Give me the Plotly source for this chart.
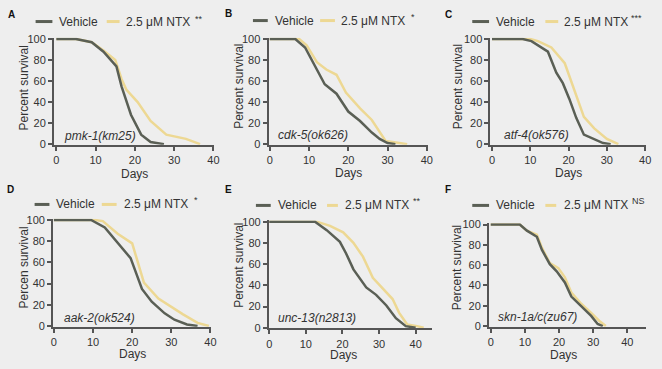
import plotly.graph_objects as go

W, H = 662, 369

# ---------------- data (days, percent survival) ----------------
a_veh_days = [0, 5, 9, 12, 15.3, 16.6, 19, 21.6, 24, 27.4]
a_veh_surv = [100, 100, 97, 88, 74, 55, 28, 9, 2, 0]
a_ntx_days = [0, 5, 9, 12, 15, 16.6, 17.8, 20.7, 24, 28, 33, 36.6]
a_ntx_surv = [100, 100, 97, 89, 80, 62, 52, 40, 22, 9, 5, 0]

b_veh_days = [0, 6.5, 9, 12, 14, 17, 20, 23, 26, 28, 30, 32]
b_veh_surv = [100, 100, 92, 71, 57, 48, 31, 22, 11, 5, 1, 0]
b_ntx_days = [0, 7.5, 9.4, 12, 14.4, 17, 19.4, 23, 26, 28, 29.5, 33, 35]
b_ntx_surv = [100, 100, 94, 78, 71, 66, 49, 34, 23, 11, 3, 1, 0]

c_veh_days = [0, 8, 10.3, 14.6, 16.8, 18.5, 20.2, 22, 24, 26.7, 29, 31]
c_veh_surv = [100, 100, 98, 88, 68, 58, 43, 25, 9, 5, 1, 0]
c_ntx_days = [0, 10, 12, 15.5, 19, 21.5, 24, 26.7, 30, 33]
c_ntx_surv = [100, 100, 98, 92, 77, 52, 26, 15, 5, 0]

d_veh_days = [0, 9.5, 13, 16.3, 19.6, 22.5, 25, 28.3, 30.8, 34, 36.7]
d_veh_surv = [100, 100, 93, 78, 64, 35, 23, 12, 6, 1.5, 0]
d_ntx_days = [0, 10.5, 12.5, 16.3, 20, 23, 26.7, 30, 33, 36.7, 39.6]
d_ntx_surv = [100, 100, 99, 87, 78, 41, 26, 18, 11, 3, 0]

e_veh_days = [0, 12.5, 15.7, 19.3, 21, 23, 26.5, 29.2, 32, 34.6, 37.3, 40]
e_veh_surv = [100, 100, 92, 81, 70, 55, 38, 31, 21, 9, 1.5, 0]
e_ntx_days = [0, 13, 16.6, 20.2, 23, 25.6, 28.3, 31, 33.7, 35.5, 37.7, 40.4, 42.2]
e_ntx_surv = [100, 100, 96, 90, 80, 67, 47, 37, 27, 14, 3, 1.5, 0]

f_veh_days = [0, 8.5, 10.6, 13.5, 15, 17.3, 19.3, 21.7, 23.6, 26.5, 29.4, 31.3, 32.8]
f_veh_surv = [100, 100, 94, 88, 75, 61, 54, 43, 29, 19, 10, 2, 0]
f_ntx_days = [0, 8.5, 10.6, 13.5, 15, 17.3, 19.8, 21.7, 23.6, 26.5, 29.4, 31.8, 33.7]
f_ntx_surv = [100, 100, 94, 90, 77, 62, 57, 48, 33, 22, 13, 5, 0]

panel_letters = ["A", "B", "C", "D", "E", "F"]
genotypes = ["pmk-1(km25)", "cdk-5(ok626)", "atf-4(ok576)",
             "aak-2(ok524)", "unc-13(n2813)", "skn-1a/c(zu67)"]
significance = ["**", "*", "***", "*", "**", "NS"]
ylabels = ["Percent survival", "Percent survival", "Percent survival",
           "Percen survival", "Percent survival", "Percent survival"]
series_names = ["Vehicle", "2.5 μM NTX"]
x_ticks = [0, 10, 20, 30, 40]
y_ticks = [0, 20, 40, 60, 80, 100]

veh_days = [a_veh_days, b_veh_days, c_veh_days, d_veh_days, e_veh_days, f_veh_days]
veh_surv = [a_veh_surv, b_veh_surv, c_veh_surv, d_veh_surv, e_veh_surv, f_veh_surv]
ntx_days = [a_ntx_days, b_ntx_days, c_ntx_days, d_ntx_days, e_ntx_days, f_ntx_days]
ntx_surv = [a_ntx_surv, b_ntx_surv, c_ntx_surv, d_ntx_surv, e_ntx_surv, f_ntx_surv]

# ---------------- layout geometry (pixels) ----------------
# (px of x=0, px of x=40, x-range, px of y=0, px of y=100)
geom = [
    (54.0, 213.0, [-0.6, 40.2], 143.0, 35.0),
    (270.0, 429.0, [-0.3, 40.2], 143.0, 35.0),
    (495.0, 650.0, [-0.4, 40.2], 143.0, 35.0),
    (51.5, 210.0, [-0.2, 40.2], 330.0, 221.0),
    (269.5, 417.7, [-0.1, 44.5], 331.7, 222.7),
    (493.7, 632.0, [-0.5, 45.5], 330.0, 225.7),
]
YR = [-0.6, 101.2]

# legend / label positions (pixels)
leg = [
    # line1 x0,x1, veh text x, line2 x0,x1, ntx text x, y, sig x, sig y
    (33, 50, 55, 105, 118, 122, 17, 192, 14),
    (253, 268, 273, 321, 336, 340, 16, 411, 12),
    (475, 492, 497, 549, 562, 566, 17, 634, 13),
    (32, 47, 52, 100, 115, 120, 205, 191, 200),
    (256, 271, 276, 328, 339, 344, 206, 413, 201),
    (475, 492, 497, 549, 560, 566, 206, 635, 201),
]
letter_pos = [(3, 10), (223, 9), (445, 10), (2, 190), (223, 190), (445, 190)]
geno_pos = [(60, 135), (276, 134), (505, 134), (60, 322), (276, 322), (499, 321)]
ylab_pos = [(21, 85), (239, 84), (460, 84), (21, 270), (239, 268), (459, 270)]
xlab_pos = [(133, 174), (350, 173), (572, 173), (131, 359), (345, 360), (567, 360)]

VEH = "#5a5f55"
NTX = "#edd893"
AX = "#555555"
TXT = "#333333"
FONT = "Liberation Sans, Arial, sans-serif"

fig = go.Figure()
layout = {}
annotations = []
shapes = []

for i in range(6):
    x0p, x40p, xr, y0p, y100p, = geom[i]
    sx = (x40p - x0p) / 40.0
    left = x0p + xr[0] * sx
    right = x0p + xr[1] * sx
    sy = (y0p - y100p) / 100.0
    bottom = y0p - YR[0] * sy
    top = y0p - YR[1] * sy
    xa = "xaxis" if i == 0 else f"xaxis{i+1}"
    ya = "yaxis" if i == 0 else f"yaxis{i+1}"
    xref = "x" if i == 0 else f"x{i+1}"
    yref = "y" if i == 0 else f"y{i+1}"
    common = dict(showline=True, linecolor=AX, linewidth=2, ticks="outside",
                  ticklen=4, tickwidth=2, tickcolor=AX, showgrid=False,
                  zeroline=False, tickfont=dict(size=11, color=TXT, family=FONT))
    layout[xa] = dict(domain=[left / W, right / W], range=xr, anchor=yref,
                      tickvals=x_ticks, **common)
    layout[ya] = dict(domain=[1 - bottom / H, 1 - top / H], range=YR, anchor=xref,
                      tickvals=y_ticks, **common)

    fig.add_trace(go.Scatter(x=ntx_days[i], y=ntx_surv[i], mode="lines",
                             line=dict(color=NTX, width=2.5), xaxis=xref, yaxis=yref,
                             showlegend=False, name=series_names[1]))
    fig.add_trace(go.Scatter(x=veh_days[i], y=veh_surv[i], mode="lines",
                             line=dict(color=VEH, width=2.5), xaxis=xref, yaxis=yref,
                             showlegend=False, name=series_names[0]))

    l1a, l1b, t1, l2a, l2b, t2, ly, sgx, sgy = leg[i]
    shapes.append(dict(type="line", xref="paper", yref="paper",
                       x0=l1a / W, x1=l1b / W, y0=1 - ly / H, y1=1 - ly / H,
                       line=dict(color=VEH, width=3)))
    shapes.append(dict(type="line", xref="paper", yref="paper",
                       x0=l2a / W, x1=l2b / W, y0=1 - ly / H, y1=1 - ly / H,
                       line=dict(color=NTX, width=3)))
    annotations.append(dict(text=series_names[0], x=t1 / W, y=1 - ly / H, xref="paper",
                            yref="paper", xanchor="left", yanchor="middle", showarrow=False,
                            font=dict(size=12, color=TXT, family=FONT)))
    annotations.append(dict(text=series_names[1], x=t2 / W, y=1 - ly / H, xref="paper",
                            yref="paper", xanchor="left", yanchor="middle", showarrow=False,
                            font=dict(size=12, color=TXT, family=FONT)))
    annotations.append(dict(text=significance[i], x=sgx / W, y=1 - sgy / H, xref="paper",
                            yref="paper", xanchor="left", yanchor="middle", showarrow=False,
                            font=dict(size=9, color=TXT, family=FONT)))
    lx, lyy = letter_pos[i]
    annotations.append(dict(text=f"<b>{panel_letters[i]}</b>", x=lx / W, y=1 - lyy / H,
                            xref="paper", yref="paper", xanchor="left", yanchor="middle",
                            showarrow=False, font=dict(size=10, color="#111111", family=FONT)))
    gx, gy = geno_pos[i]
    annotations.append(dict(text=f"<i>{genotypes[i]}</i>", x=gx / W, y=1 - gy / H,
                            xref="paper", yref="paper", xanchor="left", yanchor="middle",
                            showarrow=False, font=dict(size=12, color=TXT, family=FONT)))
    yx, yy = ylab_pos[i]
    annotations.append(dict(text=ylabels[i], x=yx / W, y=1 - yy / H, xref="paper",
                            yref="paper", xanchor="center", yanchor="middle", textangle=-90,
                            showarrow=False, font=dict(size=12, color=TXT, family=FONT)))
    dx, dy = xlab_pos[i]
    annotations.append(dict(text="Days", x=dx / W, y=1 - dy / H, xref="paper",
                            yref="paper", xanchor="center", yanchor="middle",
                            showarrow=False, font=dict(size=12, color=TXT, family=FONT)))

fig.update_layout(width=W, height=H, margin=dict(l=0, r=0, t=0, b=0),
                  paper_bgcolor="#eeeeee", plot_bgcolor="#eeeeee",
                  annotations=annotations, shapes=shapes, showlegend=False,
                  font=dict(family=FONT), **layout)

fig.write_html("out.html", config={"displayModeBar": False},
               post_script="document.body.style.margin='0';document.body.style.background='#eeeeee';")
